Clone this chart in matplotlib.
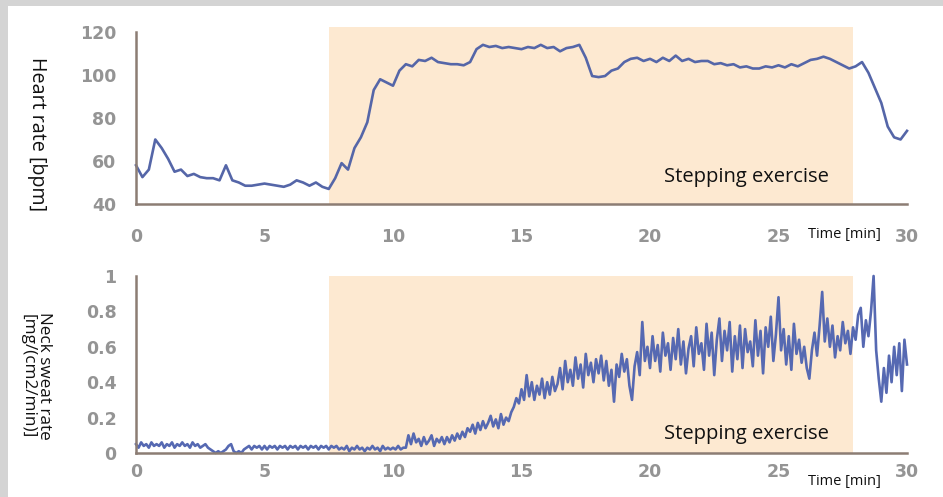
import numpy as np
import matplotlib
matplotlib.use("Agg")
import matplotlib.pyplot as plt
from matplotlib.patches import Rectangle

# heart rate, one value every 0.25 min
heart_rate = [
    58, 52.5, 56, 70,
    66, 61, 55, 56,
    53, 54, 52.5, 52,
    52, 51, 58, 51,
    50, 48.5, 48.5, 49,
    49.5, 49, 48.5, 48,
    49, 51, 50, 48.5,
    50, 48, 47, 52,
    59, 56, 66, 71,
    78, 93, 98, 96.5,
    95, 102, 105, 104,
    107, 106.5, 108, 106,
    105.5, 105, 105, 104.5,
    106, 112, 114, 113,
    113.5, 112.5, 113, 112.5,
    112, 113, 112.5, 114,
    112.5, 113, 111, 112.5,
    113, 114, 108, 99.5,
    99, 99.5, 102, 103,
    106, 107.5, 108, 106.5,
    107.5, 106, 108, 106.5,
    109, 106.5, 107.5, 106,
    106.5, 106.5, 105, 105.5,
    104.5, 105, 103.5, 104,
    103, 103, 104, 103.5,
    104.5, 103.5, 105, 104,
    105.5, 107, 107.5, 108.5,
    107.5, 106, 104.5, 103,
    104, 106, 101, 94,
    87, 76, 71, 70,
    74,
]

# neck sweat rate, one value every 0.1 min
sweat_rate = [
    0.05, 0.03, 0.06, 0.04, 0.05, 0.03, 0.06, 0.04, 0.05, 0.04,
    0.06, 0.03, 0.05, 0.04, 0.06, 0.03, 0.05, 0.04, 0.06, 0.04,
    0.05, 0.03, 0.06, 0.04, 0.05, 0.03, 0.04, 0.05, 0.03, 0.02,
    0.01, 0.00, 0.01, 0.00, 0.01, 0.02, 0.04, 0.05, 0.01, 0.00,
    0.01, 0.00, 0.02, 0.03, 0.04, 0.02, 0.04, 0.03, 0.04, 0.02,
    0.04, 0.02, 0.04, 0.03, 0.04, 0.02, 0.04, 0.03, 0.04, 0.02,
    0.04, 0.03, 0.04, 0.02, 0.04, 0.03, 0.04, 0.02, 0.04, 0.03,
    0.04, 0.02, 0.04, 0.03, 0.04, 0.02, 0.04, 0.03, 0.04, 0.02,
    0.03, 0.02, 0.04, 0.01, 0.03, 0.02, 0.04, 0.02, 0.03, 0.01,
    0.03, 0.02, 0.04, 0.02, 0.03, 0.01, 0.04, 0.02, 0.03, 0.02,
    0.03, 0.02, 0.04, 0.02, 0.03, 0.03, 0.10, 0.05, 0.11, 0.06,
    0.08, 0.04, 0.09, 0.05, 0.07, 0.10, 0.04, 0.08, 0.06, 0.09,
    0.05, 0.09, 0.06, 0.10, 0.07, 0.11, 0.08, 0.12, 0.09, 0.14,
    0.12, 0.16, 0.11, 0.17, 0.13, 0.18, 0.14, 0.17, 0.21, 0.15,
    0.19, 0.14, 0.22, 0.16, 0.20, 0.18, 0.23, 0.26, 0.31, 0.28,
    0.36, 0.30, 0.44, 0.32, 0.40, 0.30, 0.38, 0.33, 0.42, 0.31,
    0.40, 0.33, 0.43, 0.35, 0.39, 0.48, 0.36, 0.52, 0.40, 0.47,
    0.38, 0.54, 0.42, 0.50, 0.37, 0.56, 0.44, 0.51, 0.40, 0.53,
    0.45, 0.55, 0.41, 0.52, 0.38, 0.47, 0.29, 0.50, 0.43, 0.56,
    0.46, 0.53, 0.38, 0.30, 0.49, 0.57, 0.44, 0.74, 0.52, 0.60,
    0.48, 0.66, 0.52, 0.61, 0.46, 0.68, 0.55, 0.62, 0.47, 0.65,
    0.53, 0.70, 0.50, 0.63, 0.45, 0.59, 0.66, 0.49, 0.71, 0.56,
    0.62, 0.47, 0.73, 0.55, 0.68, 0.44, 0.64, 0.76, 0.52, 0.69,
    0.58, 0.74, 0.46, 0.66, 0.53, 0.72, 0.48, 0.70, 0.57, 0.63,
    0.49, 0.75, 0.55, 0.69, 0.45, 0.71, 0.60, 0.77, 0.52, 0.67,
    0.88, 0.58, 0.70, 0.50, 0.66, 0.47, 0.73, 0.56, 0.64, 0.51,
    0.60, 0.48, 0.42, 0.58, 0.68, 0.55, 0.72, 0.91, 0.63, 0.76,
    0.60, 0.72, 0.54, 0.66, 0.58, 0.74, 0.62, 0.69, 0.56, 0.71,
    0.64, 0.78, 0.82, 0.60, 0.75, 0.66, 0.80, 1.00, 0.58, 0.42,
    0.29, 0.48, 0.34, 0.55, 0.40, 0.60, 0.44, 0.62, 0.35, 0.64,
    0.50,
]

exercise_start = 7.5
exercise_end = 27.9
x_ticks = [0, 5, 10, 15, 20, 25, 30]
hr_ticks = [40, 60, 80, 100, 120]
sweat_ticks = [0, 0.2, 0.4, 0.6, 0.8, 1]
sweat_tick_labels = ["0", "0.2", "0.4", "0.6", "0.8", "1"]

t_hr = np.arange(len(heart_rate)) * 0.25
t_sweat = np.arange(len(sweat_rate)) * 0.1

W, H = 943, 497
fig = plt.figure(figsize=(W / 100, H / 100), dpi=100)
fig.patch.set_facecolor("#d4d4d4")
fig.patches.append(Rectangle((8 / W, 0), 1, (H - 6) / H, transform=fig.transFigure,
                             facecolor="white", edgecolor="none", zorder=-5))

spine_col = "#8c7d74"
shade_col = "#fde9d1"
tick_col = "#7a7a7a"
txt_font = "Open Sans"

def px_axes(left, right, top, bottom):
    return fig.add_axes([left / W, 1 - bottom / H, (right - left) / W, (bottom - top) / H])

def style(ax, xpad):
    ax.set_facecolor("none")
    for s in ["top", "right"]:
        ax.spines[s].set_visible(False)
    for s in ["left", "bottom"]:
        ax.spines[s].set_color(spine_col)
        ax.spines[s].set_linewidth(1.8)
    ax.set_xlim(0, 30)
    ax.set_xticks(x_ticks)
    ax.tick_params(axis="both", length=0, colors=tick_col, labelsize=12.5)
    ax.tick_params(axis="y", pad=14)
    ax.tick_params(axis="x", pad=xpad)
    for lab in ax.get_xticklabels() + ax.get_yticklabels():
        lab.set_fontweight("bold")
        lab.set_alpha(0.8)

# top panel: heart rate
ax1 = px_axes(136, 907, 27, 204)
ax1.set_ylim(40, 122.3)
ax1.set_yticks(hr_ticks)
ax1.spines["left"].set_bounds(40, 120)
ax1.axvspan(exercise_start, exercise_end, color=shade_col, zorder=0, lw=0)
ax1.plot(t_hr, heart_rate, color="#5566a8", lw=1.9, zorder=2, clip_on=False)
style(ax1, 17)
ax1.text(26.95, 52.5, "Stepping exercise", ha="right", va="center",
         fontsize=14.5, family=txt_font, color="#111111")
ax1.text(29.0, 25.6, "Time [min]", ha="right", va="center",
         fontsize=10.5, family=txt_font, color="#111111", clip_on=False)
fig.text(37 / W, 1 - 134 / H, "Heart rate [bpm]", rotation=270, ha="center",
         va="center", fontsize=14.2, family=txt_font, color="#111111")

# bottom panel: neck sweat rate
ax2 = px_axes(136, 907, 276, 453)
ax2.set_ylim(0, 1)
ax2.set_yticks(sweat_ticks)
ax2.set_yticklabels(sweat_tick_labels)
ax2.axvspan(exercise_start, exercise_end, color=shade_col, zorder=0, lw=0)
ax2.plot(t_sweat, sweat_rate, color="#5669b2", lw=1.9, zorder=2, clip_on=False)
style(ax2, 7)
ax2.text(26.95, 0.11, "Stepping exercise", ha="right", va="center",
         fontsize=14.5, family=txt_font, color="#111111")
ax2.text(29.0, -0.16, "Time [min]", ha="right", va="center",
         fontsize=10.5, family=txt_font, color="#111111", clip_on=False)
fig.text(36 / W, 1 - 376 / H, "Neck sweat rate\n[mg/(cm2/min)]", rotation=270,
         ha="center", va="center", fontsize=12.3, family=txt_font,
         color="#111111", linespacing=1.02)

fig.savefig("out.png", dpi=100)
